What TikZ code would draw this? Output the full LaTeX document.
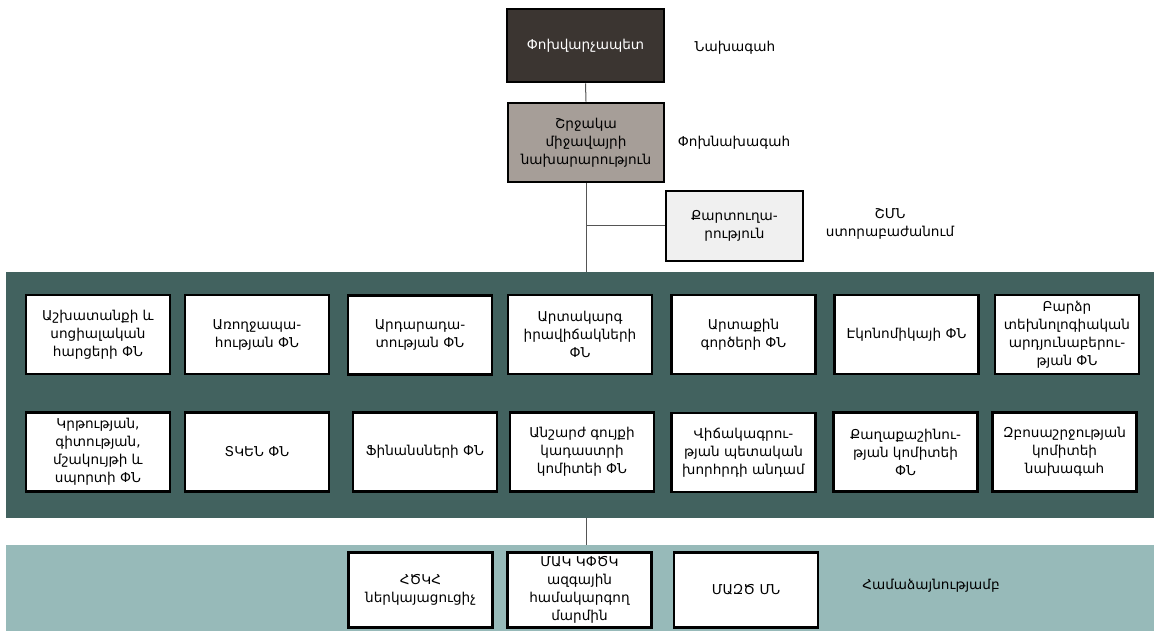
\documentclass[tikz,border=0pt]{standalone}
\usepackage{fontspec}
\setmainfont{DejaVu Sans}
\definecolor{headfill}{HTML}{3B3531}
\definecolor{minfill}{HTML}{A69E98}
\definecolor{secfill}{HTML}{F0F0F0}
\definecolor{darkpanel}{HTML}{42625F}
\definecolor{lightpanel}{HTML}{97BAB9}
\definecolor{linkgray}{HTML}{555555}
\begin{document}
\begin{tikzpicture}[x=1pt,y=-1pt,
  txt/.style={font=\fontsize{13.6}{18}\selectfont, align=center},
  orgbox/.style={txt, draw=black, line width=2.6pt, fill=white, inner sep=0pt,
    minimum width=144pt, minimum height=79pt},
  lowbox/.style={orgbox, minimum height=75pt},
  panel/.style={draw=none, inner sep=0pt, anchor=north west},
  link/.style={draw=linkgray, line width=1pt},
  side/.style={txt}]
\useasboundingbox (0,0) rectangle (1154,631);

% background bands
\node[panel, fill=darkpanel, minimum width=1148pt, minimum height=246pt] (dark) at (6,272) {};
\node[panel, fill=lightpanel, minimum width=1148pt, minimum height=86pt] (light) at (6,545) {};

% head of the structure
\node[orgbox, fill=headfill, text=white, minimum width=157pt, minimum height=73pt] (head) at (585.5,45.5) {Փոխվարչապետ};
\node[orgbox, fill=minfill, minimum width=156pt, minimum height=79pt] (min) at (586,142.5) {Շրջակա\\միջավայրի\\նախարարություն};
\node[orgbox, fill=secfill, minimum width=137pt, minimum height=70pt] (sec) at (734.5,226) {Քարտուղա-\\րություն};

\node[side] (lbhead) at (735,48) {Նախագահ};
\node[side] (lbmin) at (734,143) {Փոխնախագահ};
\node[side] (lbsec) at (890,224) {ՇՄՆ\\ստորաբաժանում};
\node[side] (lbagree) at (931,586) {Համաձայնությամբ};

% connectors
\draw[link] (head.south) -- (min.north);
\draw[link] (min.south) -- (min.south |- dark.north);
\coordinate (branch) at (min.south |- sec.west);
\draw[link] (branch) -- (sec.west);
\draw[link] (dark.south -| min.south) -- (light.north -| min.south);

% first row of members
\node[orgbox] (r1a) at (98,334.5) {Աշխատանքի և\\սոցիալական\\հարցերի ՓՆ};
\node[orgbox] (r1b) at (257,334.5) {Առողջապա-\\հության ՓՆ};
\node[orgbox] (r1c) at (420,335) {Արդարադա-\\տության ՓՆ};
\node[orgbox] (r1d) at (580,334.5) {Արտակարգ\\իրավիճակների\\ՓՆ};
\node[orgbox] (r1e) at (743.5,334.5) {Արտաքին\\գործերի ՓՆ};
\node[orgbox] (r1f) at (906.5,334.5) {Էկոնոմիկայի ՓՆ};
\node[orgbox] (r1g) at (1067,334.5) {Բարձր\\տեխնոլոգիական\\արդյունաբերու-\\թյան ՓՆ};

% second row of members
\node[orgbox] (r2a) at (98,452) {Կրթության,\\գիտության,\\մշակույթի և\\սպորտի ՓՆ};
\node[orgbox] (r2b) at (257,452) {ՏԿԵՆ ՓՆ};
\node[orgbox] (r2c) at (425,452) {Ֆինանսների ՓՆ};
\node[orgbox] (r2d) at (582,452) {Անշարժ գույքի\\կադաստրի\\կոմիտեի ՓՆ};
\node[orgbox] (r2e) at (743.5,452.5) {Վիճակագրու-\\թյան պետական\\խորհրդի անդամ};
\node[orgbox] (r2f) at (905.5,452) {Քաղաքաշինու-\\թյան կոմիտեի\\ՓՆ};
\node[orgbox] (r2g) at (1064.5,452) {Զբոսաշրջության\\կոմիտեի\\նախագահ};

% members by agreement
\node[lowbox] (b1) at (420.5,590) {ՀԾԿՀ\\ներկայացուցիչ};
\node[lowbox] (b2) at (579.5,590) {ՄԱԿ ԿՓԾԿ\\ազգային\\համակարգող\\մարմին};
\node[lowbox] (b3) at (746,590) {ՄԱԶԾ ՄՆ};
\end{tikzpicture}
\end{document}
